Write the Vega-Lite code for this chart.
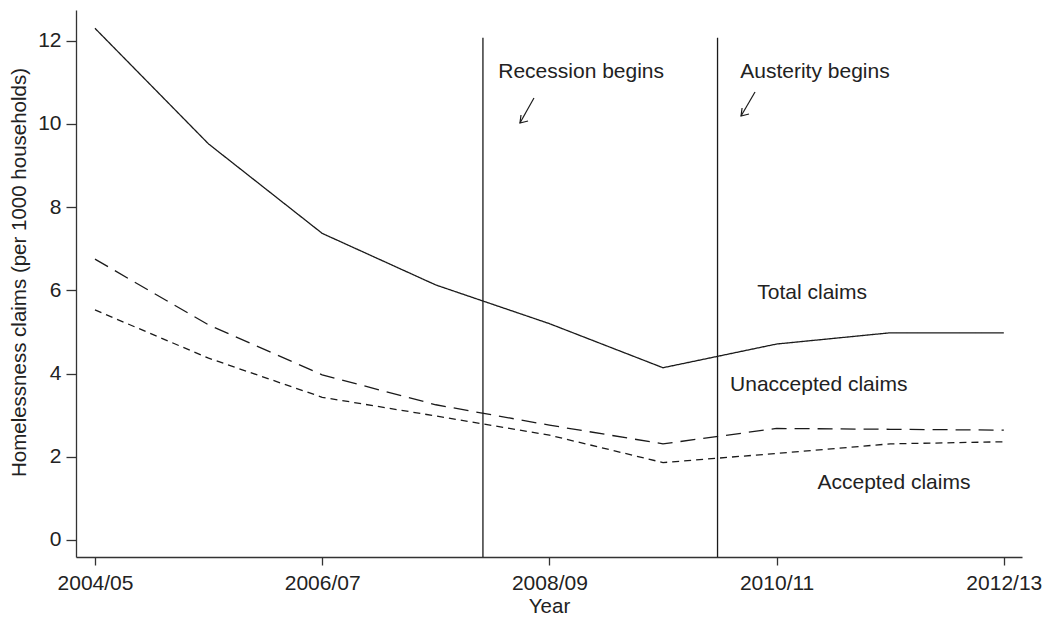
{
  "$schema": "https://vega.github.io/schema/vega-lite/v6.json",
  "width": 946,
  "height": 547,
  "autosize": "none",
  "padding": {"left": 76, "top": 10, "right": 22, "bottom": 62},
  "background": "white",
  "config": {
    "view": {"stroke": null},
    "font": "Liberation Sans",
    "axis": {
      "grid": false,
      "domainColor": "#333333",
      "domainWidth": 1.3,
      "tickColor": "#333333",
      "tickWidth": 1.3,
      "labelColor": "#222222",
      "titleColor": "#222222",
      "labelFont": "Liberation Sans",
      "titleFont": "Liberation Sans",
      "labelFontSize": 21,
      "titleFontSize": 20.5,
      "titleFontWeight": "normal"
    }
  },
  "datasets": {
    "series": [
      {"t": 0, "year": "2004/05", "series": "Total claims", "value": 12.30},
      {"t": 1, "year": "2005/06", "series": "Total claims", "value": 9.52},
      {"t": 2, "year": "2006/07", "series": "Total claims", "value": 7.37},
      {"t": 3, "year": "2007/08", "series": "Total claims", "value": 6.13},
      {"t": 4, "year": "2008/09", "series": "Total claims", "value": 5.20},
      {"t": 5, "year": "2009/10", "series": "Total claims", "value": 4.14},
      {"t": 6, "year": "2010/11", "series": "Total claims", "value": 4.71},
      {"t": 7, "year": "2011/12", "series": "Total claims", "value": 4.98},
      {"t": 8, "year": "2012/13", "series": "Total claims", "value": 4.98},
      {"t": 0, "year": "2004/05", "series": "Unaccepted claims", "value": 6.75},
      {"t": 1, "year": "2005/06", "series": "Unaccepted claims", "value": 5.17},
      {"t": 2, "year": "2006/07", "series": "Unaccepted claims", "value": 3.97},
      {"t": 3, "year": "2007/08", "series": "Unaccepted claims", "value": 3.25},
      {"t": 4, "year": "2008/09", "series": "Unaccepted claims", "value": 2.76},
      {"t": 5, "year": "2009/10", "series": "Unaccepted claims", "value": 2.31},
      {"t": 6, "year": "2010/11", "series": "Unaccepted claims", "value": 2.68},
      {"t": 7, "year": "2011/12", "series": "Unaccepted claims", "value": 2.66},
      {"t": 8, "year": "2012/13", "series": "Unaccepted claims", "value": 2.64},
      {"t": 0, "year": "2004/05", "series": "Accepted claims", "value": 5.53},
      {"t": 1, "year": "2005/06", "series": "Accepted claims", "value": 4.37},
      {"t": 2, "year": "2006/07", "series": "Accepted claims", "value": 3.43},
      {"t": 3, "year": "2007/08", "series": "Accepted claims", "value": 2.98},
      {"t": 4, "year": "2008/09", "series": "Accepted claims", "value": 2.52},
      {"t": 5, "year": "2009/10", "series": "Accepted claims", "value": 1.86},
      {"t": 6, "year": "2010/11", "series": "Accepted claims", "value": 2.08},
      {"t": 7, "year": "2011/12", "series": "Accepted claims", "value": 2.31},
      {"t": 8, "year": "2012/13", "series": "Accepted claims", "value": 2.36}
    ],
    "events": [
      {"t": 3.415, "top": 12.07, "bottom": -0.41, "event": "Recession begins"},
      {"t": 5.48, "top": 12.07, "bottom": -0.41, "event": "Austerity begins"}
    ],
    "labels": [
      {"t": 3.55, "value": 11.25, "text": "Recession begins"},
      {"t": 5.68, "value": 11.25, "text": "Austerity begins"},
      {"t": 5.83, "value": 5.94, "text": "Total claims"},
      {"t": 5.59, "value": 3.73, "text": "Unaccepted claims"},
      {"t": 6.36, "value": 1.37, "text": "Accepted claims"}
    ],
    "arrows": [
      {"part": "r-shaft", "o": 0, "t": 3.864, "value": 10.625},
      {"part": "r-shaft", "o": 1, "t": 3.741, "value": 10.024},
      {"part": "r-head", "o": 0, "t": 3.750, "value": 10.216},
      {"part": "r-head", "o": 1, "t": 3.741, "value": 10.024},
      {"part": "r-head", "o": 2, "t": 3.812, "value": 10.072},
      {"part": "a-shaft", "o": 0, "t": 5.810, "value": 10.769},
      {"part": "a-shaft", "o": 1, "t": 5.687, "value": 10.192},
      {"part": "a-head", "o": 0, "t": 5.696, "value": 10.385},
      {"part": "a-head", "o": 1, "t": 5.687, "value": 10.192},
      {"part": "a-head", "o": 2, "t": 5.757, "value": 10.240}
    ]
  },
  "layer": [
    {
      "data": {"name": "series"},
      "mark": {"type": "line", "color": "#1a1a1a", "strokeWidth": 1.3},
      "encoding": {
        "x": {
          "field": "t",
          "type": "quantitative",
          "scale": {"domain": [-0.167, 8.16], "nice": false, "zero": false},
          "axis": {
            "title": "Year",
            "values": [0, 2, 4, 6, 8],
            "labelExpr": "['2004/05','2005/06','2006/07','2007/08','2008/09','2009/10','2010/11','2011/12','2012/13'][datum.value]",
            "tickSize": 8,
            "labelPadding": 7,
            "titlePadding": 3,
            "labelFlush": false
          }
        },
        "y": {
          "field": "value",
          "type": "quantitative",
          "scale": {"domain": [-0.41, 12.74], "nice": false, "zero": false},
          "axis": {
            "title": "Homelessness claims (per 1000 households)",
            "values": [0, 2, 4, 6, 8, 10, 12],
            "tickSize": 10,
            "labelPadding": 5,
            "titleX": -57,
            "titleY": 262,
            "titleBaseline": "middle"
          }
        },
        "strokeDash": {
          "field": "series",
          "type": "nominal",
          "scale": {
            "domain": ["Total claims", "Unaccepted claims", "Accepted claims"],
            "range": [[1, 0], [15, 8], [7, 5]]
          },
          "legend": null
        },
        "detail": {"field": "series"}
      }
    },
    {
      "data": {"name": "events"},
      "mark": {"type": "rule", "color": "#1a1a1a", "strokeWidth": 1.3},
      "encoding": {
        "x": {"field": "t", "type": "quantitative"},
        "y": {"field": "bottom", "type": "quantitative"},
        "y2": {"field": "top"}
      }
    },
    {
      "data": {"name": "labels"},
      "mark": {"type": "text", "align": "left", "baseline": "middle", "fontSize": 21, "font": "Liberation Sans", "color": "#222222"},
      "encoding": {
        "x": {"field": "t", "type": "quantitative"},
        "y": {"field": "value", "type": "quantitative"},
        "text": {"field": "text"}
      }
    },
    {
      "data": {"name": "arrows"},
      "mark": {"type": "line", "color": "#1a1a1a", "strokeWidth": 1.2},
      "encoding": {
        "x": {"field": "t", "type": "quantitative"},
        "y": {"field": "value", "type": "quantitative"},
        "detail": {"field": "part"},
        "order": {"field": "o", "type": "quantitative"}
      }
    }
  ]
}
